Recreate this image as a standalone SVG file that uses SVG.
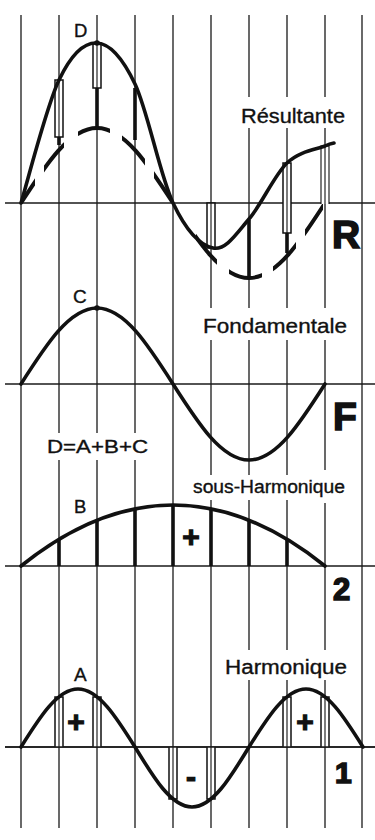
<svg xmlns="http://www.w3.org/2000/svg" width="375" height="840" viewBox="0 0 375 840">
<style>
.grid{stroke:#1a1a1a;stroke-width:1.3;fill:none}
.axis{stroke:#1a1a1a;stroke-width:1.5;fill:none}
.curve{stroke:#111;stroke-width:3.6;fill:none;stroke-linecap:round;stroke-linejoin:round}
.dash{stroke:#111;stroke-width:4;fill:none}
.bar{fill:#fff;stroke:#111;stroke-width:1.5}
.barc{stroke:#111;stroke-width:1.1;fill:none}
.stem{stroke:#111;stroke-width:3.6;fill:none}
.lbl{font-family:"Liberation Sans",Arial,sans-serif;fill:#111;stroke:#111;stroke-width:0.35}
.big{font-family:"Liberation Sans",Arial,sans-serif;font-weight:bold;fill:#111;stroke:#111;stroke-width:1.6}
.sign{font-family:"Liberation Sans",Arial,sans-serif;font-weight:bold;fill:#111;stroke:#111;stroke-width:1.2;text-anchor:middle}
</style>
<defs>
<clipPath id="dashclip">
<rect x="22" y="100" width="13" height="190"/>
<rect x="44" y="100" width="20" height="190"/>
<rect x="78" y="100" width="32" height="190"/>
<rect x="122" y="100" width="23" height="190"/>
<rect x="154" y="100" width="17" height="190"/>
<rect x="196" y="100" width="21" height="190"/>
<rect x="229" y="100" width="33" height="190"/>
<rect x="273" y="100" width="23" height="190"/>
<rect x="305" y="100" width="18" height="190"/>
</clipPath>
</defs>
<rect width="375" height="840" fill="#fff"/>
<g id="grid">
<path class="grid" d="M21,15V828"/>
<path class="grid" d="M59,15V433M59,460V828"/>
<path class="grid" d="M97,15V433M97,460V828"/>
<path class="grid" d="M135,15V433M135,460V828"/>
<path class="grid" d="M173,15V828"/>
<path class="grid" d="M211,15V308M211,340V475M211,500V828"/>
<path class="grid" d="M249,15V97M249,128V308M249,340V475M249,500V650M249,680V828"/>
<path class="grid" d="M287,15V97M287,128V308M287,340V475M287,500V650M287,680V828"/>
<path class="grid" d="M325,15V97M325,128V308M325,340V470M325,503V650M325,680V828"/>
<path class="grid" d="M362,15V828"/>
</g>
<g id="axes">
<path class="axis" d="M5,203H375"/>
<path class="axis" d="M5,384H375"/>
<path class="axis" d="M5,566H375"/>
<path class="axis" d="M5,747H375"/>
</g>
<g id="panel-R">
<path class="dash" clip-path="url(#dashclip)" d="M21,203C45.8,164.6 69.5,128 97,128C124.5,128 148.2,164.6 173,203C197.8,241.4 221.5,278 249,278C276.5,278 300.2,241.4 325,203"/>
<path class="stem" d="M59,137V145M97,88V128M135,88V140M249,220V278M287,233V253"/>
<path class="bar" d="M55,137V80H63V137Z"/><path class="barc" d="M59,80V137"/>
<path class="bar" d="M93,88V43H101V88Z"/><path class="barc" d="M97,43V88"/>
<path class="bar" d="M207,203V248H215V203Z"/><path class="barc" d="M211,203V248"/>
<path class="bar" d="M283,233V163H291V233Z"/><path class="barc" d="M287,163V233"/>
<path fill="#fff" d="M321,204V146H329V204Z"/><path class="barc" stroke-width="1.5" d="M321,204V146H329V204"/><path class="barc" d="M325,146V204"/>
<path class="curve" d="M21,203C27.3,182.5 46.3,106.7 59,80C71.7,53.3 84.3,42.3 97,43C109.7,43.7 122.3,57.3 135,84C147.7,110.7 160,175.7 173,203C186,230.3 200.3,245.3 213,248C225.7,250.7 236.7,233.2 249,219C261.3,204.8 274.3,175.2 287,163C299.7,150.8 317.2,149.3 325,146C328,144.5 331,143.5 334,143"/>
<circle cx="97" cy="43" r="2.8" fill="#111"/>
<text class="lbl" x="74" y="37" font-size="18.5">D</text>
<text class="lbl" x="241" y="123" font-size="21" textLength="104" lengthAdjust="spacingAndGlyphs">Résultante</text>
<text class="big" x="332" y="248" font-size="39">R</text>
</g>
<g id="panel-F">
<path class="curve" d="M21,384C45.8,345.1 69.5,308 97,308C124.5,308 148.2,345.1 173,384C197.8,422.9 221.5,460 249,460C276.5,460 300.2,422.9 325,384"/>
<circle cx="97" cy="308" r="2.8" fill="#111"/>
<text class="lbl" x="73" y="303" font-size="19">C</text>
<text class="lbl" x="203" y="333" font-size="21" textLength="144" lengthAdjust="spacingAndGlyphs">Fondamentale</text>
<text class="big" x="333" y="430" font-size="39">F</text>
<text class="lbl" x="47" y="453" font-size="19" textLength="101" lengthAdjust="spacingAndGlyphs">D=A+B+C</text>
</g>
<g id="panel-2">
<path class="stem" d="M59,566V539M97,566V520M135,566V509M173,566V505M211,566V509M249,566V520M287,566V539"/>
<path class="curve" d="M21,566Q173,444 325,566"/>
<text class="lbl" x="74" y="513" font-size="18.5">B</text>
<text class="lbl" x="193" y="493" font-size="18" textLength="152" lengthAdjust="spacingAndGlyphs">sous-Harmonique</text>
<text class="sign" x="191" y="547" font-size="30">+</text>
<text class="big" x="333" y="600" font-size="31">2</text>
</g>
<g id="panel-1">
<path class="bar" d="M55,747V697H63V747"/><path class="barc" d="M59,697V747"/>
<path class="bar" d="M93,747V697H101V747"/><path class="barc" d="M97,697V747"/>
<path class="bar" d="M169,747V799H177V747"/><path class="barc" d="M173,747V799"/>
<path class="bar" d="M207,747V799H215V747"/><path class="barc" d="M211,747V799"/>
<path class="bar" d="M283,747V697H291V747"/><path class="barc" d="M287,697V747"/>
<path class="bar" d="M321,747V697H329V747"/><path class="barc" d="M325,697V747"/>
<path class="axis" d="M5,747H375"/>
<path class="curve" d="M21,747C39.6,717.3 57.4,689 78,689C98.6,689 116.4,717.3 135,747C153.6,777.7 171.4,807 192,807C212.6,807 230.4,777.7 249,747C267.6,717.3 285.4,689 306,689C326.6,689 344.4,717.3 363,747"/>
<text class="lbl" x="74" y="681" font-size="19">A</text>
<text class="lbl" x="225" y="674" font-size="20" textLength="122" lengthAdjust="spacingAndGlyphs">Harmonique</text>
<text class="sign" x="76" y="732" font-size="30">+</text>
<text class="sign" x="305" y="732" font-size="30">+</text>
<text class="sign" x="191" y="787" font-size="30">-</text>
<text class="big" x="335" y="783" font-size="30">1</text>
</g>
</svg>
